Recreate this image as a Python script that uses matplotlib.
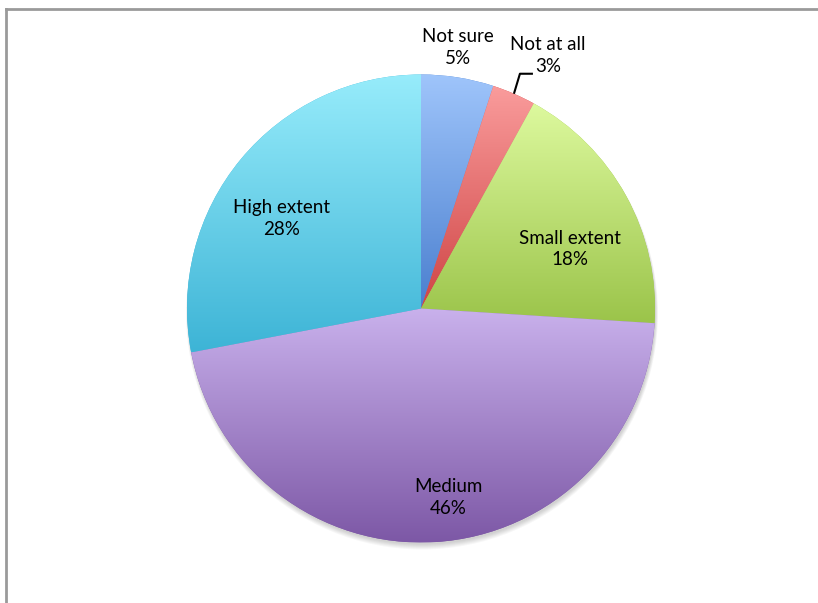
import numpy as np
import matplotlib.pyplot as plt
from matplotlib.colors import to_rgb
from matplotlib.lines import Line2D
from matplotlib.patches import Rectangle

# Survey answers (percent)
labels = ['Not sure', 'Not at all', 'Small extent', 'Medium', 'High extent']
values = [5, 3, 18, 46, 28]

# gradient colours per slice (top, bottom)
top_colors = ['#9fc5fb', '#fa9c9c', '#ddf99e', '#c9b1ec', '#97ecfb']
bottom_colors = ['#4a7fcf', '#cf4545', '#9bc44a', '#7d58a6', '#3db4d6']

# label placement: radius as fraction of pie radius, angle shift (deg)
label_r = [1.125, 1.21, 0.685, 0.815, 0.71]
label_shift = [-0.9, 3.2, 7.0, -4.6, -6.7]

W, H = 818, 603
cx, cy, R = 421, H - 308.5, 234

plt.rcParams['font.family'] = ['Lato', 'DejaVu Sans']

fig = plt.figure(figsize=(W / 100, H / 100), dpi=100)
ax = fig.add_axes([0, 0, 1, 1])

# soft shadow under the pie (mostly at the bottom)
for k in range(6, 0, -1):
    ax.add_patch(plt.Circle((cx + 1, cy - 2 - k * 0.5), R - 1 + k * 0.5,
                            color='black', alpha=0.03, lw=0, zorder=1))

wedges, _ = ax.pie(values, startangle=90, counterclock=False,
                   center=(cx, cy), radius=R,
                   wedgeprops=dict(linewidth=0))
for w, c0, c1 in zip(wedges, top_colors, bottom_colors):
    w.set_facecolor(c1)
    w.set_zorder(2)
    ext = w.get_path().get_extents()
    t = np.linspace(0, 1, 256)[:, None, None]
    img = np.array(to_rgb(c1)) * (1 - t) + np.array(to_rgb(c0)) * t
    im = ax.imshow(img, extent=(ext.x0, ext.x1, ext.y0, ext.y1),
                   origin='lower', aspect='auto', zorder=3)
    im.set_clip_path(w)
ax.set_xlim(0, W)
ax.set_ylim(0, H)
ax.axis('off')

# labels
cum = 0.0
for i, (lab, v) in enumerate(zip(labels, values)):
    mid = cum + v / 2
    cum += v
    ang = np.deg2rad(mid * 3.6 + label_shift[i])
    r = label_r[i] * R
    x = cx + r * np.sin(ang)
    y = cy + r * np.cos(ang)
    ax.text(x, y, f'{lab}\n{v}%', ha='center', va='center',
            fontsize=13.5, linespacing=1.35, color='black', zorder=5)
    if lab == 'Not at all':
        a0 = np.deg2rad(mid * 3.6)
        ex, ey = cx + R * np.sin(a0), cy + R * np.cos(a0)
        ax.plot([ex, ex + 6, ex + 19], [ey, ey + 20, ey + 20],
                color='black', lw=1.5, zorder=5, solid_capstyle='butt')

# keep the right edge of the picture clean
fig.add_artist(Rectangle((812 / W, 0), 6 / W + 0.01, 1 - 11 / H,
                         transform=fig.transFigure, facecolor='white',
                         edgecolor='none', zorder=20))

# chart frame (only left and top edges are inside the picture)
fig.add_artist(Line2D([6 / W, 6 / W], [0, 1 - 9 / H], transform=fig.transFigure,
                      color='#9a9a9a', lw=2, zorder=21))
fig.add_artist(Line2D([6 / W, 1], [1 - 9 / H, 1 - 9 / H], transform=fig.transFigure,
                      color='#9a9a9a', lw=2, zorder=21))

fig.savefig('out.png', dpi=100)
